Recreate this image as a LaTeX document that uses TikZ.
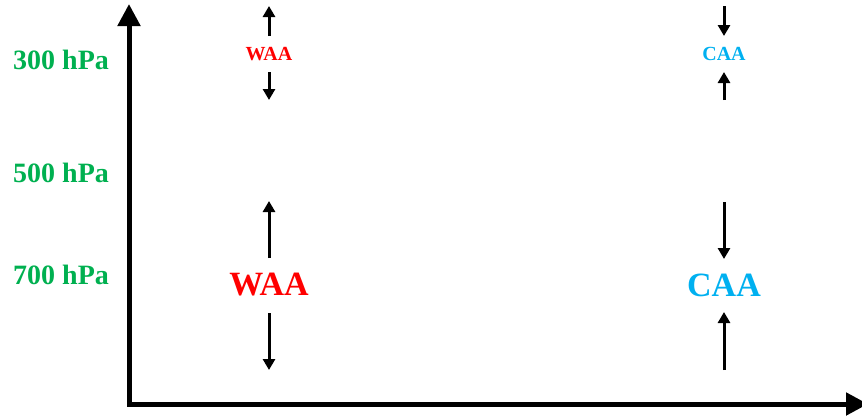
\documentclass[tikz,border=0pt]{standalone}
\usepackage{fontspec}
\setmainfont{Liberation Serif}
\usetikzlibrary{arrows.meta}
\definecolor{lvlgreen}{RGB}{0,176,80}
\definecolor{waared}{RGB}{255,0,0}
\definecolor{caablue}{RGB}{0,176,240}
\tikzset{
  axis/.style={line width=5pt, line join=miter, {Triangle[width=22pt,length=22pt]}-{Triangle[width=22pt,length=22pt]}},
  vert/.style={line width=3pt, -{Triangle[width=12pt,length=11pt]}},
  level/.style={text=lvlgreen, font=\fontsize{28}{30}\selectfont\bfseries, anchor=west, inner sep=0pt},
  small/.style={font=\fontsize{20}{22}\selectfont\bfseries, inner sep=0pt},
  big/.style={font=\fontsize{34}{38}\selectfont\bfseries, inner sep=0pt}
}
\begin{document}
\begin{tikzpicture}[x=1pt,y=-1pt]
  \useasboundingbox (0,0) rectangle (862,415);
  % axes
  \coordinate (top) at (129,4);
  \coordinate (origin) at (129,404);
  \coordinate (right) at (868,404);
  \draw [axis] (top) -- (origin) -- (right);
  % pressure levels
  \node [level] (p300) at (13,60) {300 hPa};
  \node [level] (p500) at (13,173) {500 hPa};
  \node [level] (p700) at (13,275) {700 hPa};
  % warm advection
  \node [small, text=waared] (waa1) at (269,54) {WAA};
  \node [big, text=waared] (waa2) at (269,285) {WAA};
  \coordinate (w1a) at (269,36);
  \coordinate (w1b) at (269,6);
  \coordinate (w1c) at (269,72);
  \coordinate (w1d) at (269,100);
  \coordinate (w2a) at (269,258);
  \coordinate (w2b) at (269,201);
  \coordinate (w2c) at (269,313);
  \coordinate (w2d) at (269,370);
  \draw [vert] (w1a) -- (w1b);
  \draw [vert] (w1c) -- (w1d);
  \draw [vert] (w2a) -- (w2b);
  \draw [vert] (w2c) -- (w2d);
  % cold advection
  \node [small, text=caablue] (caa1) at (724,54) {CAA};
  \node [big, text=caablue] (caa2) at (724,285) {CAA};
  \coordinate (c1a) at (724,6);
  \coordinate (c1b) at (724,36);
  \coordinate (c1c) at (724,100);
  \coordinate (c1d) at (724,72);
  \coordinate (c2a) at (724,202);
  \coordinate (c2b) at (724,259);
  \coordinate (c2c) at (724,370);
  \coordinate (c2d) at (724,312);
  \draw [vert] (c1a) -- (c1b);
  \draw [vert] (c1c) -- (c1d);
  \draw [vert] (c2a) -- (c2b);
  \draw [vert] (c2c) -- (c2d);
\end{tikzpicture}
\end{document}
